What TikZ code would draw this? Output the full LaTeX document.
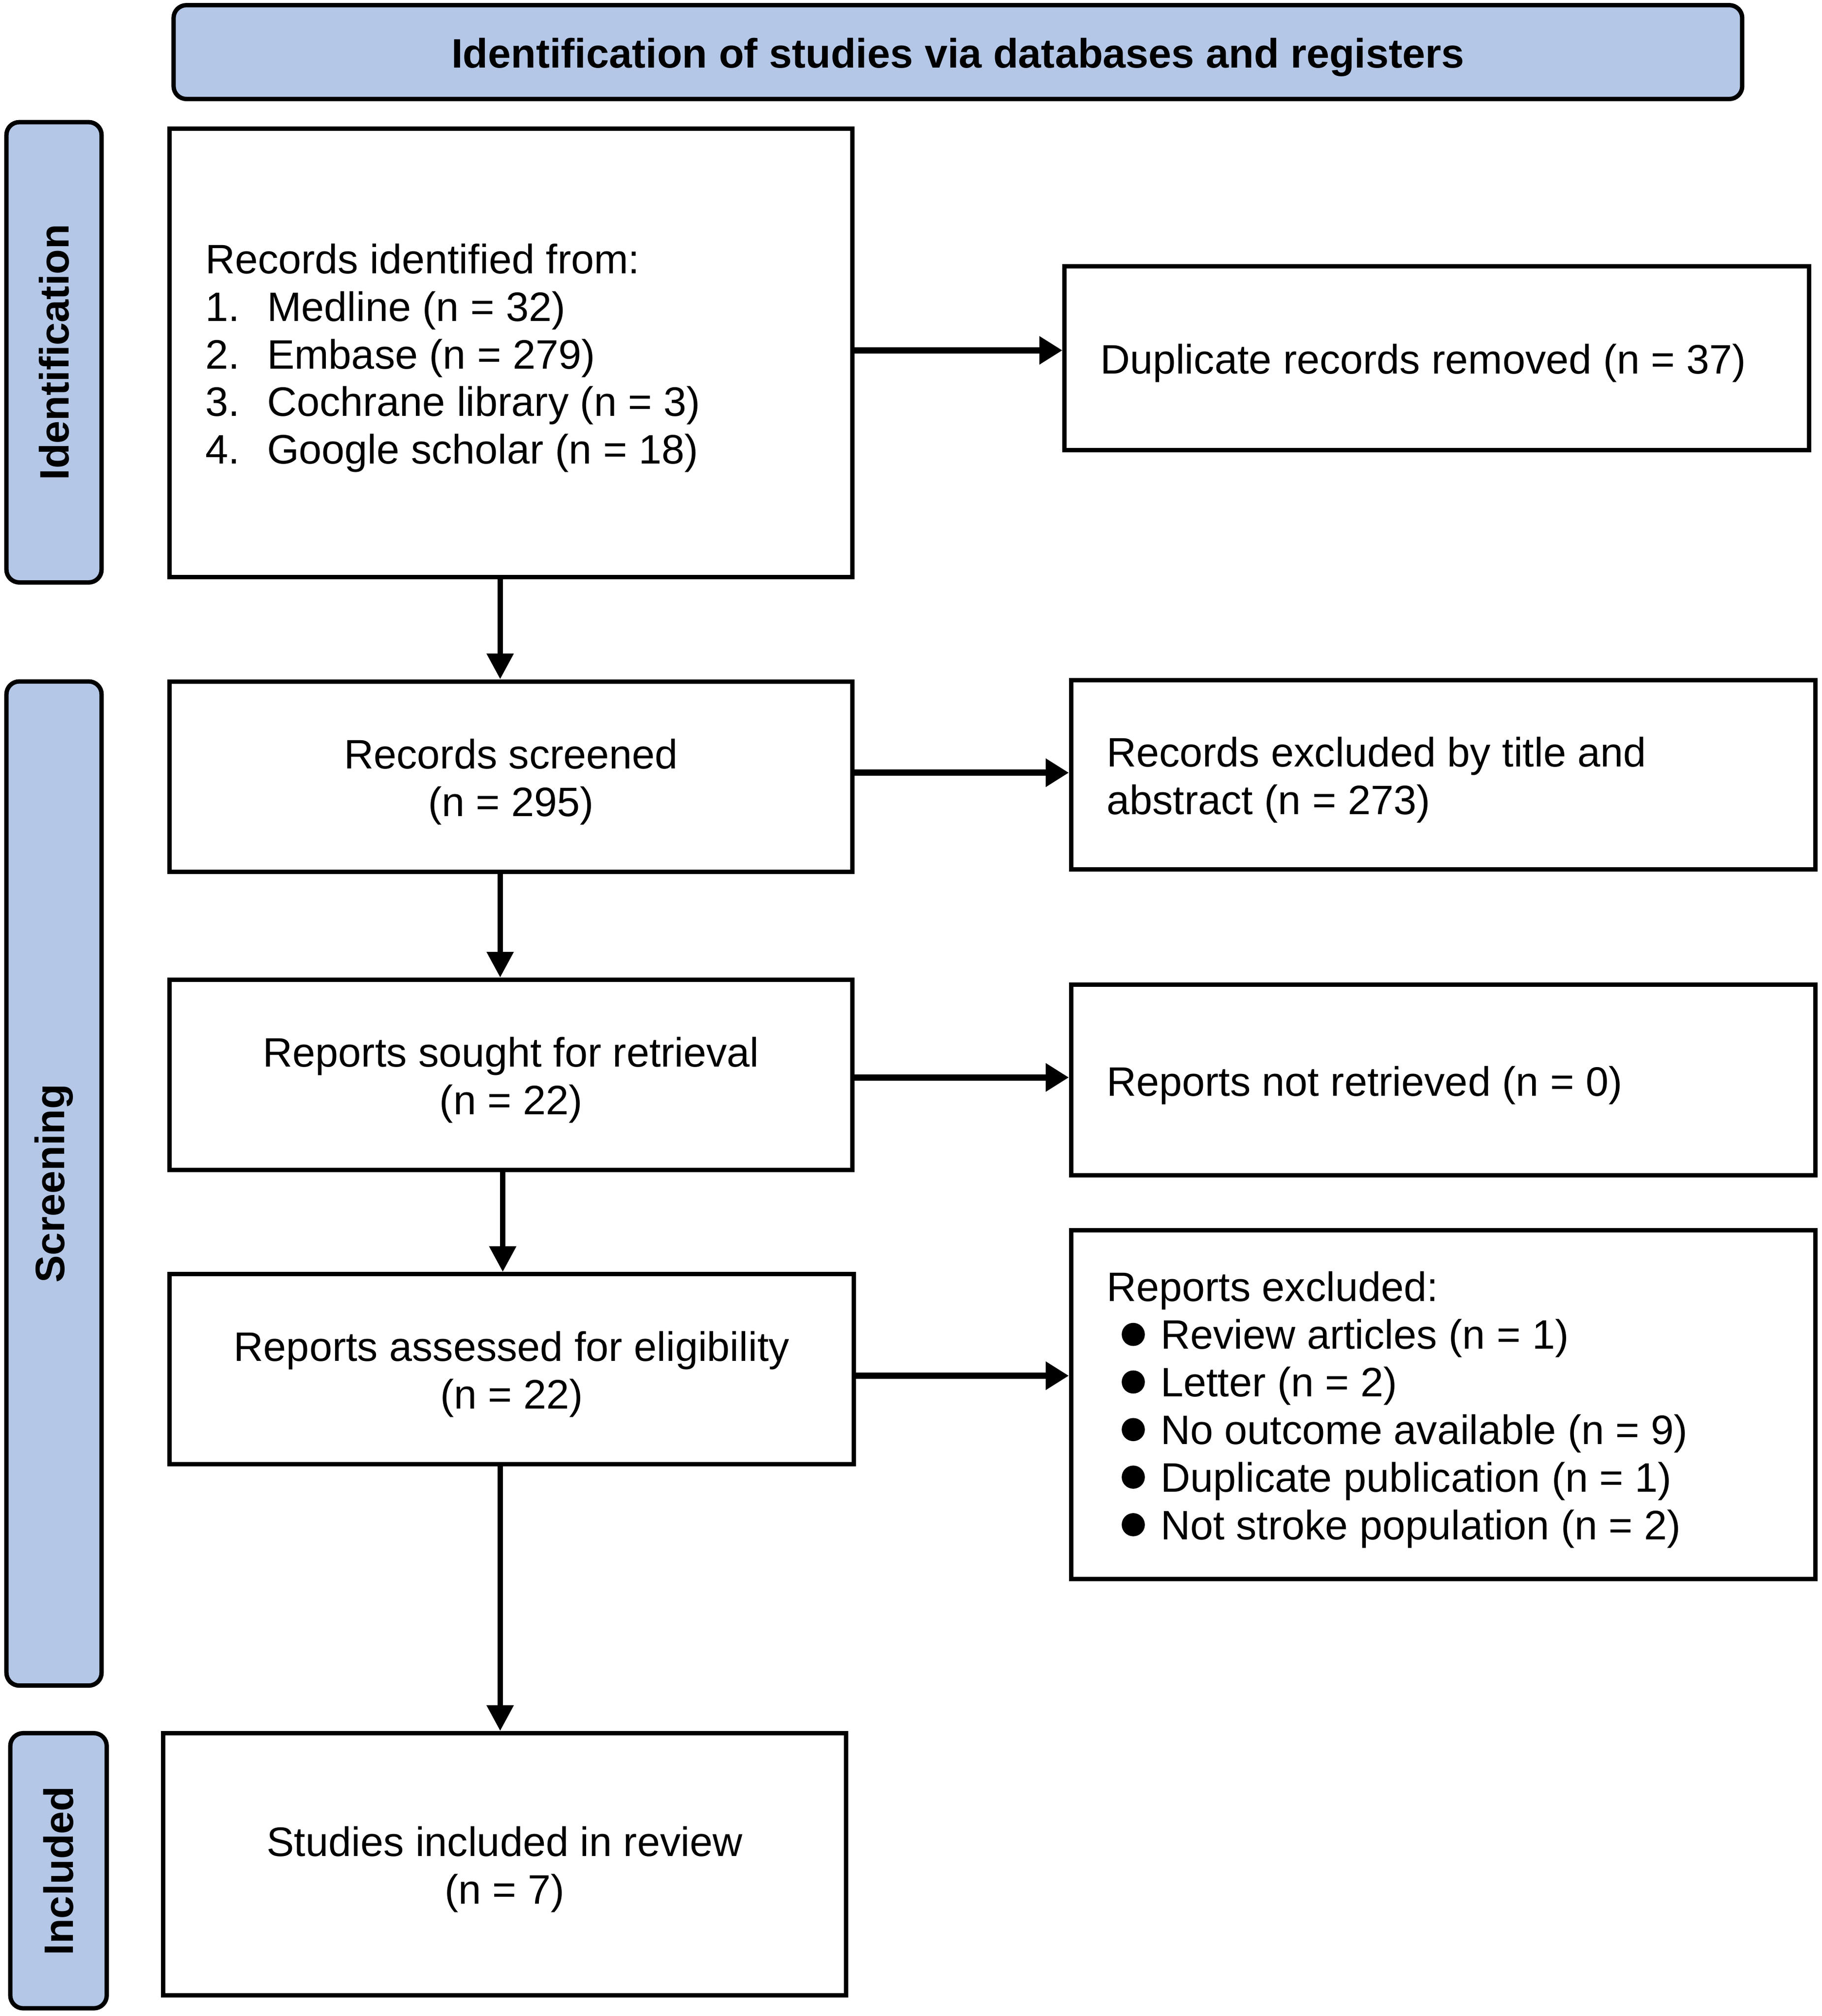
\documentclass[tikz,border=0pt]{standalone}
\usepackage{fontspec}
\setmainfont{Liberation Sans}
\usetikzlibrary{arrows.meta}
\definecolor{barblue}{HTML}{B4C7E7}
\newcommand{\bul}{\hspace*{5.85pt}\makebox[15.15pt][l]{\tikz[baseline=-5.7pt]{\fill[black] (0pt,0pt) circle (4.5pt);}}}
\newcommand{\itm}[1]{\makebox[24pt][l]{#1}}
\begin{document}
\begin{tikzpicture}[x=0.5pt,y=-0.5pt,
  every node/.style={font=\fontsize{16pt}{18.5pt}\selectfont},
  box/.style={draw=black, line width=1.7pt, fill=white, rectangle, inner sep=0pt},
  ltext/.style={anchor=west, inner sep=0pt, align=left, yshift=-2pt},
  ctext/.style={inner sep=0pt, align=center, yshift=-2pt},
  bar/.style={draw=black, line width=1.7pt, fill=barblue, rounded corners=5pt, inner sep=0pt},
  side/.style={bar, minimum width=37pt},
  sidetext/.style={rotate=90, inner sep=0pt, font=\bfseries\fontsize{16pt}{18.5pt}\selectfont},
  harr/.style={line width=2.5pt, -{Triangle[length=9pt,width=10.5pt]}},
  varr/.style={line width=2.2pt, -{Triangle[length=10pt,width=10pt]}}
]
\useasboundingbox (0,0) rectangle (1417,1568);

% banner
\node[bar, minimum width=610pt, minimum height=36.5pt] (banner) at (745,40.5) {};
\node[ctext, font=\bfseries\fontsize{16pt}{18.5pt}\selectfont] (bannert) at (banner.center) {Identification of studies via databases and registers};

% side bars
\node[side, minimum height=179pt] (sid) at (42,274) {};
\node[sidetext] (sidt) at (sid.center) {Identification};
\node[side, minimum height=390.5pt] (sscr) at (42,920.5) {};
\node[sidetext] (sscrt) at (sscr.center) {Screening};
\node[side, minimum width=37.5pt, minimum height=107pt] (sinc) at (45.5,1455) {};
\node[sidetext] (sinct) at (sinc.center) {Included};

% left column boxes
\node[box, minimum width=265.5pt, minimum height=174.5pt] (ident) at (397.5,274.5) {};
\node[box, minimum width=265.5pt, minimum height=74pt] (scr) at (397.5,604) {};
\node[box, minimum width=265.5pt, minimum height=74pt] (sought) at (397.5,836) {};
\node[box, minimum width=266pt, minimum height=74pt] (assess) at (398,1065) {};
\node[box, minimum width=265.5pt, minimum height=102pt] (incl) at (392.5,1450) {};

% right column boxes
\node[box, minimum width=289.5pt, minimum height=71.5pt] (dup) at (1117.5,278.5) {};
\node[box, minimum width=289.5pt, minimum height=73.5pt] (excl) at (1122.5,602.5) {};
\node[box, minimum width=289.5pt, minimum height=74pt] (notret) at (1122.5,840) {};
\node[box, minimum width=289.5pt, minimum height=135.5pt] (exclr) at (1122.5,1092.5) {};

% texts
\node[ltext, xshift=14.5pt] (identt) at (ident.west) {Records identified from:\\
\itm{1.}Medline (n = 32)\\
\itm{2.}Embase (n = 279)\\
\itm{3.}Cochrane library (n = 3)\\
\itm{4.}Google scholar (n = 18)};
\node[ctext] (scrt) at (scr.center) {Records screened\\(n = 295)};
\node[ctext] (soughtt) at (sought.center) {Reports sought for retrieval\\(n = 22)};
\node[ctext] (assesst) at (assess.center) {Reports assessed for eligibility\\(n = 22)};
\node[ctext] (inclt) at (incl.center) {Studies included in review\\(n = 7)};
\node[ltext, xshift=14.5pt] (dupt) at (dup.west) {Duplicate records removed (n = 37)};
\node[ltext, xshift=14.5pt] (exclt) at (excl.west) {Records excluded by title and\\abstract (n = 273)};
\node[ltext, xshift=14.5pt] (notrett) at (notret.west) {Reports not retrieved (n = 0)};
\node[ltext, xshift=14.5pt] (exclrt) at (exclr.west) {Reports excluded:\\
\bul Review articles (n = 1)\\
\bul Letter (n = 2)\\
\bul No outcome available (n = 9)\\
\bul Duplicate publication (n = 1)\\
\bul Not stroke population (n = 2)};

% horizontal arrows
\draw[harr] ([yshift=1pt]ident.east) -- ([yshift=1pt]ident.east -| dup.west);
\draw[harr] ([yshift=1.5pt]scr.east) -- ([yshift=1.5pt]scr.east -| excl.west);
\draw[harr] ([yshift=-1pt]sought.east) -- ([yshift=-1pt]sought.east -| notret.west);
\draw[harr] ([yshift=-2.5pt]assess.east) -- ([yshift=-2.5pt]assess.east -| exclr.west);

% vertical arrows
\draw[varr] ([xshift=-4.25pt]ident.south) -- ([xshift=-4.25pt]ident.south |- scr.north);
\draw[varr] ([xshift=-4.25pt]scr.south) -- ([xshift=-4.25pt]scr.south |- sought.north);
\draw[varr] ([xshift=-3.25pt]sought.south) -- ([xshift=-3.25pt]sought.south |- assess.north);
\draw[varr] ([xshift=-4.5pt]assess.south) -- ([xshift=-4.5pt]assess.south |- incl.north);
\end{tikzpicture}
\end{document}
